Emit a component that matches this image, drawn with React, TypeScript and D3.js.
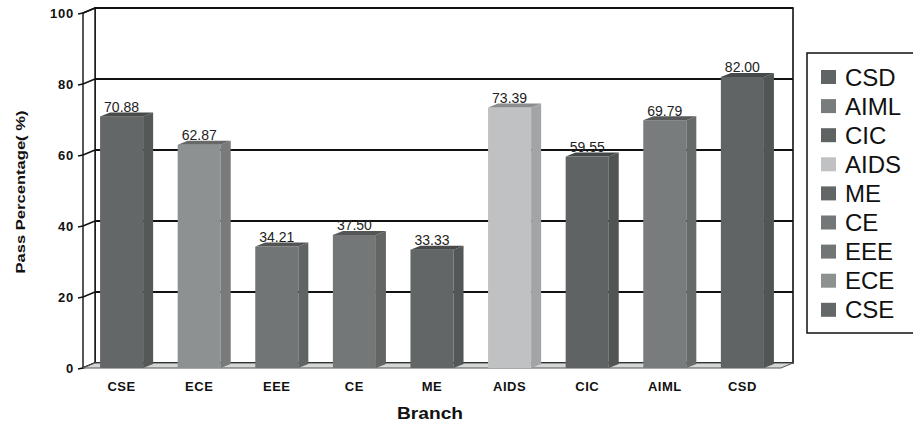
import React from "react";
import * as d3 from "d3";

const categories = ["CSE", "ECE", "EEE", "CE", "ME", "AIDS", "CIC", "AIML", "CSD"];
const values = [70.88, 62.87, 34.21, 37.5, 33.33, 73.39, 59.55, 69.79, 82.0];
const barColors = ["#646767", "#8e9191", "#727575", "#747777", "#636666", "#bfc1c3", "#5f6363", "#797c7c", "#606464"];
const yTicks = [0, 20, 40, 60, 80, 100];

const W = 913;
const H = 423;
const X0 = 83;
const X1 = 781;
const DX = 12;
const DY = -5;
const BDX = 10;
const BDY = -4;

export default function App() {
  const y = d3.scaleLinear().domain([0, 100]).range([368, 13]);
  const x = d3.scaleBand<string>().domain(categories).range([X0, X1]).paddingInner(0.445).paddingOuter(0.22);
  const bw = x.bandwidth();
  const yb = (v: number) => y(v) + DY;
  const pts = (p: [number, number][]) => p.map((q) => q.join(",")).join(" ");
  const legendItems = categories.map((c, i) => ({ c, col: barColors[i] })).reverse();
  const font = "'Liberation Sans', Arial, sans-serif";

  return (
    <svg width={W} height={H} style={{ position: "absolute", left: 0, top: 0, background: "#fff" }} fontFamily={font}>
      {/* back wall */}
      <rect x={X0 + DX} y={yb(100)} width={X1 - X0} height={y(0) - y(100)} fill="#fff" stroke="#111" strokeWidth={1.6} />
      {yTicks.map((t) => (
        <line key={"g" + t} x1={X0 + DX} x2={X1 + DX} y1={yb(t)} y2={yb(t)} stroke="#111" strokeWidth={2} />
      ))}
      {/* left side wall */}
      <polygon points={pts([[X0, y(0)], [X0, y(100)], [X0 + DX, yb(100)], [X0 + DX, yb(0)]])} fill="#fff" stroke="#111" strokeWidth={1.4} />
      {yTicks.map((t) => (
        <g key={"t" + t}>
          <line x1={X0 - 5} x2={X0} y1={y(t) + 1} y2={y(t)} stroke="#111" strokeWidth={1.4} />
          <line x1={X0} x2={X0 + DX} y1={y(t)} y2={yb(t)} stroke="#111" strokeWidth={1.4} />
          <text x={74} y={y(t) + 4.5} textAnchor="end" fontSize={13} fontWeight="bold" letterSpacing={0.8} fill="#111">{t}</text>
        </g>
      ))}
      {/* floor */}
      <polygon points={pts([[X0, y(0)], [X1, y(0)], [X1 + DX, yb(0)], [X0 + DX, yb(0)]])} fill="#d4d6d6" stroke="#555" strokeWidth={1} />
      {/* bars */}
      {categories.map((c, i) => {
        const x0 = x(c)!;
        const x1 = x0 + bw;
        const top = y(values[i]);
        const base = y(0);
        const col = d3.color(barColors[i])!;
        return (
          <g key={c}>
            <rect x={x0} y={top} width={bw} height={base - top} fill={barColors[i]} />
            <polygon points={pts([[x1, base], [x1, top], [x1 + BDX, top + BDY], [x1 + BDX, base + BDY]])} fill={col.darker(0.45).toString()} />
            <polygon points={pts([[x0, top], [x1, top], [x1 + BDX, top + BDY], [x0 + BDX, top + BDY]])} fill={col.darker(0.9).toString()} />
            <text x={x0 + bw / 2} y={top - 4.5} textAnchor="middle" fontSize={14} fill="#222">{values[i].toFixed(2)}</text>
            <text x={x0 + bw / 2} y={391} textAnchor="middle" fontSize={13} fontWeight="bold" letterSpacing={0.5} fill="#111">{c}</text>
          </g>
        );
      })}
      {/* axis titles */}
      <text x={430} y={419} textAnchor="middle" fontSize={16} fontWeight="bold" fill="#111" textLength={66} lengthAdjust="spacingAndGlyphs">Branch</text>
      <text transform="translate(25,192) rotate(-90)" textAnchor="middle" fontSize={13} fontWeight="bold" fill="#111" textLength={163} lengthAdjust="spacingAndGlyphs">Pass Percentage( %)</text>
      {/* legend */}
      <rect x={807} y={53} width={120} height={280} fill="#fff" stroke="#111" strokeWidth={1.5} />
      {legendItems.map((it, i) => {
        const cy = 77 + i * 29.1;
        return (
          <g key={"l" + it.c}>
            <rect x={821} y={cy - 7} width={15} height={14} fill={it.col} />
            <text x={845} y={cy + 8.5} fontSize={24} fill="#111">{it.c}</text>
          </g>
        );
      })}
    </svg>
  );
}
